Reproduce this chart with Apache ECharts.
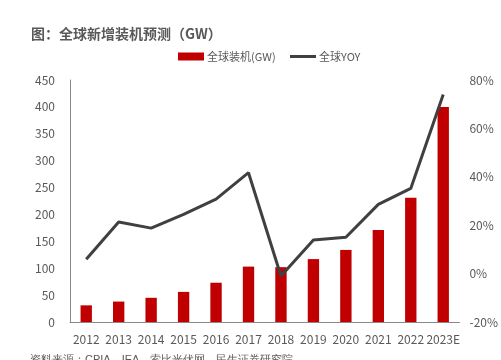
<!DOCTYPE html>
<html><head><meta charset="utf-8">
<script src="https://cdn.jsdelivr.net/npm/echarts@6/dist/echarts.min.js"></script>
<style>html,body{margin:0;padding:0;background:#fff;}#c{width:501px;height:360px;}</style>
</head><body><div id="c"></div>
<script>
var categories = ['2012','2013','2014','2015','2016','2017','2018','2019','2020','2021','2022','2023E'];
var installs = [31, 38, 45, 56, 73, 103, 102, 117, 134, 171, 231, 400];
var yoy = [5.9, 21.3, 18.8, 24.5, 30.8, 41.7, -1, 13.9, 15, 28.6, 35.2, 74];
var leftTicks = [0, 450, 50];
var rightTicks = [-20, 80, 20];
var font = '"Microsoft YaHei","Noto Sans CJK SC",sans-serif';
var chart = echarts.init(document.getElementById('c'));
chart.setOption({
  animation: false,
  textStyle: {fontFamily: font},
  title: {text: '图：全球新增装机预测（GW）', left: 26, top: 22,
    textStyle: {fontSize: 14, fontWeight: 'bold', color: '#595959', fontFamily: font}},
  graphic: [{type: 'text', left: 30, top: 354, style: {text: '资料来源：CPIA，IEA，索比光伏网，民生证券研究院', fontSize: 11, fill: '#595959', font: '11px ' + font}}],
  legend: [
    {top: 46, left: 173, itemWidth: 26, itemHeight: 8,
      textStyle: {fontSize: 11, color: '#595959', padding: [0,0,0,-2]},
      data: [{name: '全球装机(GW)', icon: 'rect'}]},
    {top: 46, left: 285, itemWidth: 26, itemHeight: 3,
      textStyle: {fontSize: 11, color: '#595959', padding: [0,0,0,-2]},
      data: [{name: '全球YOY', icon: 'rect'}]}
  ],
  grid: {left: 70, right: 39, top: 80, bottom: 38},
  xAxis: {type: 'category', data: categories,
    axisLine: {lineStyle: {color: '#898989', width: 1}},
    axisTick: {show: false},
    axisLabel: {color: '#595959', fontSize: 12, margin: 11, interval: 0}},
  yAxis: [
    {type: 'value', min: leftTicks[0], max: leftTicks[1], interval: leftTicks[2],
      axisLine: {show: true, lineStyle: {color: '#898989'}}, axisTick: {show: false},
      splitLine: {show: false},
      axisLabel: {color: '#595959', fontSize: 12, margin: 15}},
    {type: 'value', min: rightTicks[0], max: rightTicks[1], interval: rightTicks[2],
      axisLine: {show: false}, axisTick: {show: false}, splitLine: {show: false},
      axisLabel: {color: '#595959', fontSize: 12, margin: 10, formatter: '{value}%'}}
  ],
  series: [
    {name: '全球装机(GW)', type: 'bar', data: installs, barWidth: '35%',
      itemStyle: {color: '#C00000'}},
    {name: '全球YOY', type: 'line', yAxisIndex: 1, data: yoy, symbol: 'none',
      lineStyle: {color: '#404040', width: 3}, itemStyle: {color: '#404040'}}
  ]
});
</script></body></html>
